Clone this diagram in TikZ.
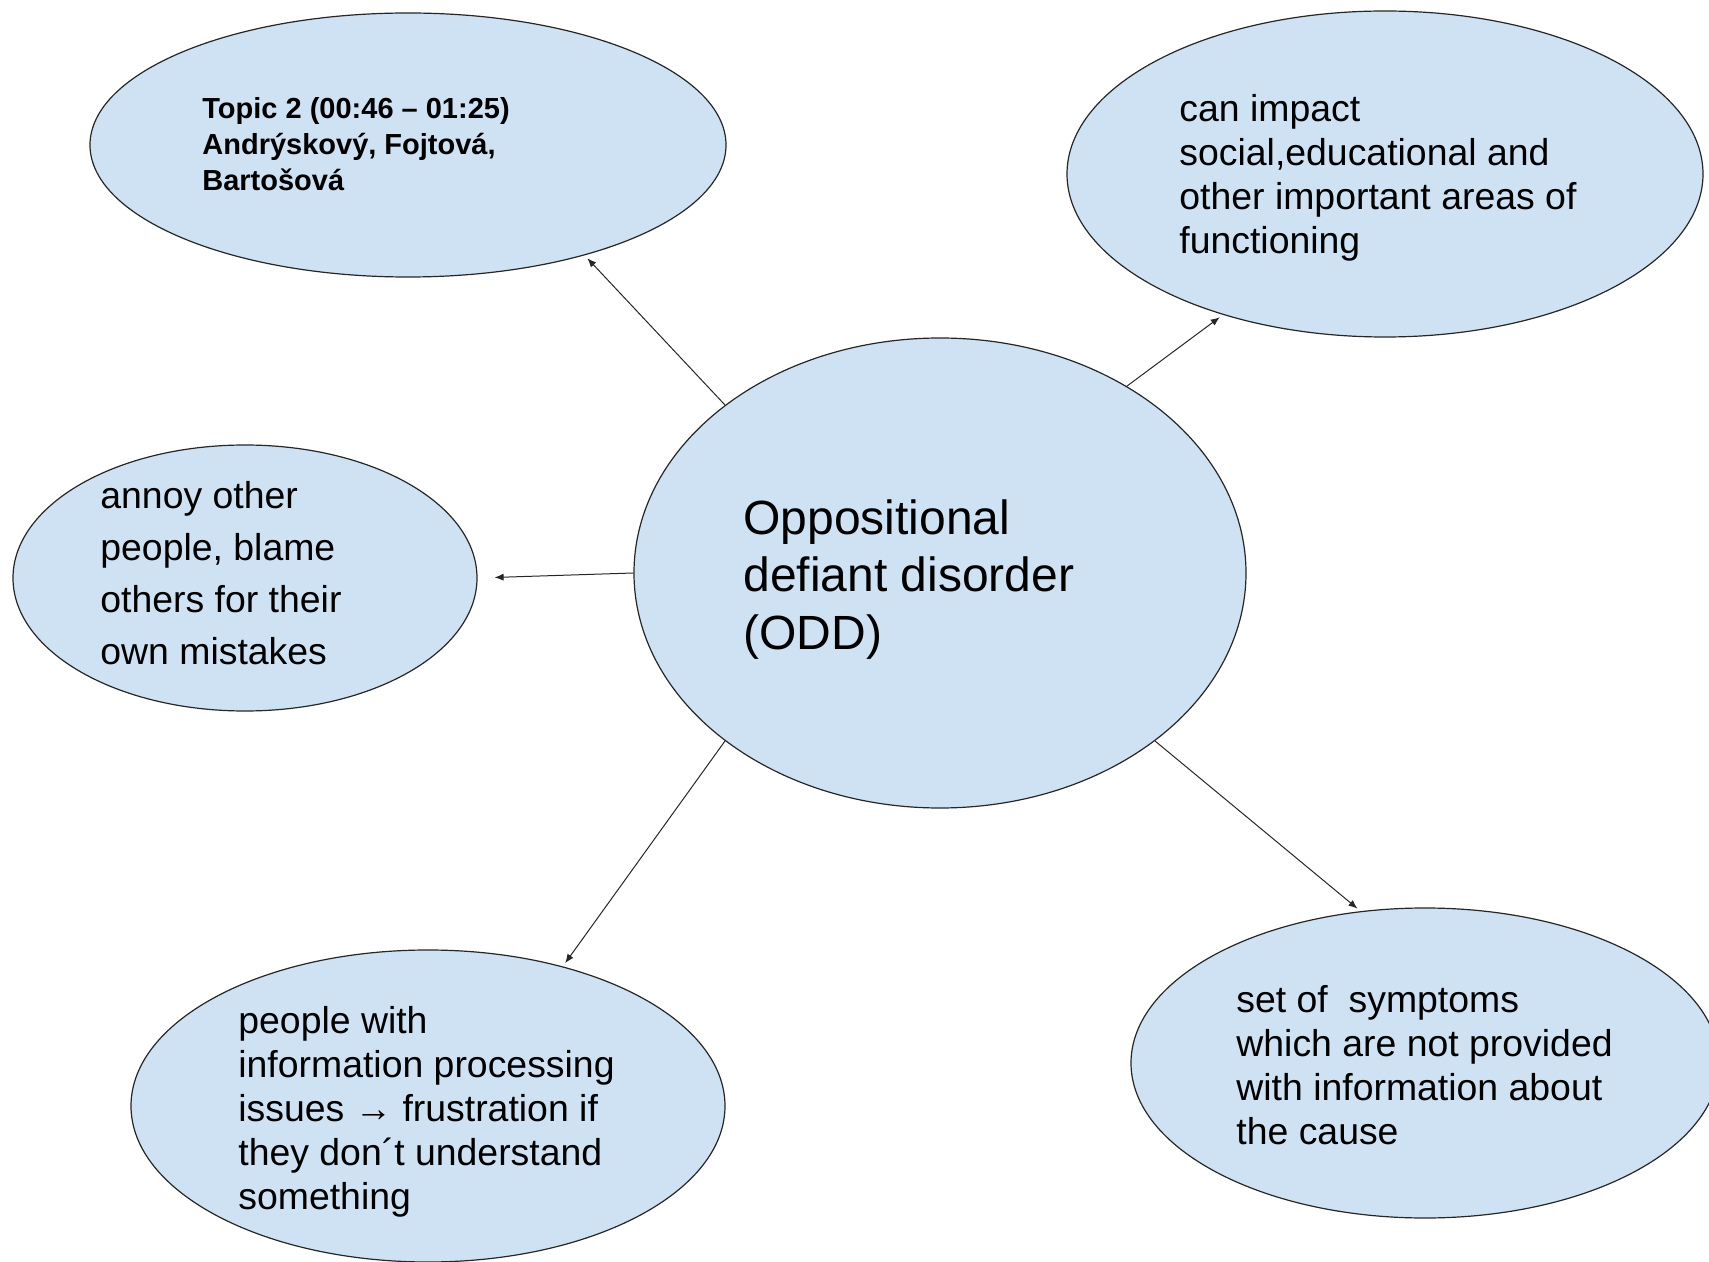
\documentclass[tikz,border=0pt]{standalone}
\usepackage{fontspec}
\setmainfont{Liberation Sans}
\usetikzlibrary{arrows.meta,shapes.geometric}
\definecolor{bub}{HTML}{CFE2F3}

\begin{document}
\begin{tikzpicture}[
	x=0.5pt,y=-0.5pt,
	bubble/.style={ellipse,draw=black!85,line width=0.6pt,fill=bub,inner sep=0pt},
	txt/.style={anchor=base west,align=left,inner sep=0pt,font=\fontsize{18.7}{22}\selectfont},
	link/.style={-{Latex[length=4.5pt,width=3.6pt]},line width=0.5pt,black!85,shorten >=2pt},
	]
	\useasboundingbox (0,0) rectangle (1709,1262);
	\clip (0,0) rectangle (1709,1262);
	
	\node[bubble,minimum width=318pt,minimum height=132pt] (topic) at (408,145) {};
	\node[bubble,minimum width=318pt,minimum height=163pt] (impact) at (1385,174) {};
	\node[bubble,minimum width=306pt,minimum height=235pt] (odd) at (940,573) {};
	\node[bubble,minimum width=232pt,minimum height=133pt] (annoy) at (245,578) {};
	\node[bubble,minimum width=297pt,minimum height=156pt] (people) at (428,1106) {};
	\node[bubble,minimum width=294pt,minimum height=155pt] (symptoms) at (1425,1063) {};
	
	% texts (placed by the baseline of their last line)
	\node[txt,font=\bfseries\fontsize{14.5}{18}\selectfont] (topictxt) at (202,191)
		{Topic 2 (00:46 – 01:25)\\Andrýskový, Fojtová,\\Bartošová};
	\node[txt] (impacttxt) at (1179,254)
		{can impact\\social,educational and\\other important areas of\\functioning};
	\node[txt,font=\fontsize{24}{28.6}\selectfont] (oddtxt) at (743,649)
		{Oppositional\\defiant disorder\\(ODD)};
	\node[txt,font=\fontsize{18.7}{26}\selectfont] (annoytxt) at (100,664)
		{annoy other\\people, blame\\others for their\\own mistakes};
	\node[txt] (peopletxt) at (238,1209)
		{people with\\information processing\\issues → frustration if\\they don´t understand\\something};
	\node[txt] (symptomstxt) at (1236,1144)
		{set of \ symptoms\\which are not provided\\with information about\\the cause};
	
	\foreach \a/\b in {odd.142/topic.328,odd.45/impact.221,odd.218/people.46,odd.322/symptoms.113}
		{\draw[link] (\a) -- (\b);}
	\draw[link,shorten >=8.5pt] (odd.180) -- (annoy.east);
\end{tikzpicture}
\end{document}
